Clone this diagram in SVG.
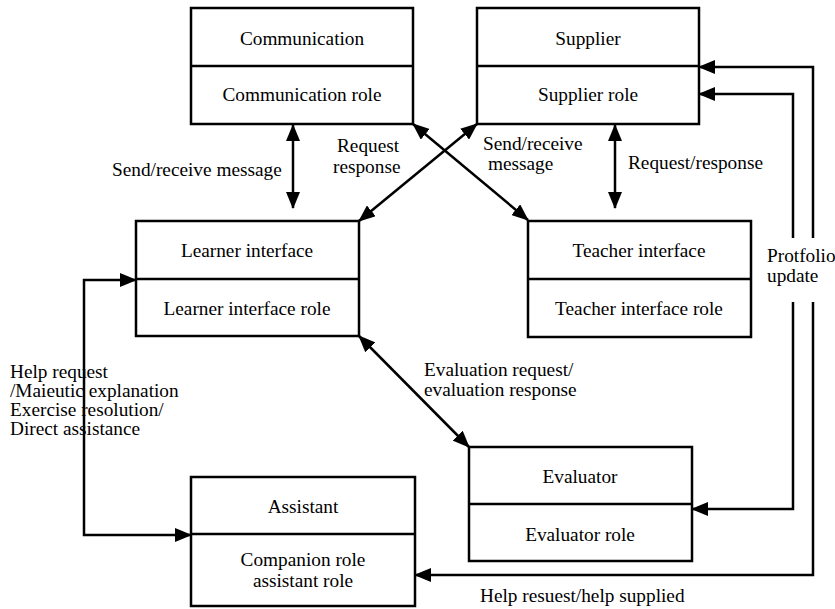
<svg xmlns="http://www.w3.org/2000/svg" width="835" height="609" viewBox="0 0 835 609">
  <style>
    .box { fill: #fff; stroke: #000; stroke-width: 2.5; }
    .div { stroke: #000; stroke-width: 2.5; fill: none; }
    text { font-family: 'Liberation Serif', 'Times New Roman', 'DejaVu Serif', serif; font-size: 19.3px; fill: #000; }
    .c { text-anchor: middle; }
    .link { fill: none; stroke: #000; stroke-width: 2.5; }
    .dbl { marker-start: url(#ah); marker-end: url(#ah); }
  </style>
  <defs>
    <marker id="ah" viewBox="0 0 17 14" refX="16" refY="7" markerWidth="17" markerHeight="14" markerUnits="userSpaceOnUse" orient="auto-start-reverse">
      <path d="M0,0 L17,7 L0,14 Z" fill="#000"/>
    </marker>
  </defs>
  <rect width="835" height="609" fill="#fff"/>

  <!-- connectors -->
  <g id="connectors">
    <!-- Communication <-> Learner interface -->
    <line class="link dbl" x1="293" y1="125" x2="293" y2="208"/>
    <!-- Supplier <-> Teacher interface -->
    <line class="link dbl" x1="615" y1="125" x2="615" y2="208"/>
    <!-- Communication <-> Teacher interface -->
    <line class="link dbl" x1="413" y1="124" x2="528" y2="220"/>
    <!-- Supplier <-> Learner interface -->
    <line class="link dbl" x1="477" y1="124" x2="359" y2="221"/>
    <!-- Learner interface <-> Evaluator -->
    <line class="link dbl" x1="359" y1="336" x2="469" y2="447"/>
    <!-- Learner interface <-> Assistant -->
    <path class="link dbl" d="M136,280 H84 V535 H191"/>
    <!-- Supplier <-> Evaluator (portfolio update) -->
    <path class="link" marker-start="url(#ah)" marker-end="url(#ah)" d="M699,94 H793 V238 M793,302 V509 H692"/>
    <!-- Supplier <-> Assistant (help request) -->
    <path class="link" marker-start="url(#ah)" marker-end="url(#ah)" d="M699,67 H813 V238 M813,302 V575 H415"/>
  </g>

  <!-- connector labels -->
  <g id="labels">
    <text x="112" y="176">Send/receive message</text>
    <text x="337" y="152">Request</text>
    <text x="333" y="173">response</text>
    <text x="483" y="150">Send/receive</text>
    <text x="488" y="170">message</text>
    <text x="628" y="169">Request/response</text>
    <text x="767" y="262">Protfolio</text>
    <text x="767" y="282">update</text>
    <text x="424" y="376">Evaluation request/</text>
    <text x="424" y="396">evaluation response</text>
    <text x="10" y="378">Help request</text>
    <text x="10" y="397">/Maieutic explanation</text>
    <text x="10" y="416">Exercise resolution/</text>
    <text x="10" y="435">Direct assistance</text>
    <text x="480" y="602">Help resuest/help supplied</text>
  </g>

  <g id="communication">
    <rect class="box" x="191" y="8" width="222" height="116"/>
    <line class="div" x1="191" y1="66" x2="413" y2="66"/>
    <text class="c" x="302" y="45">Communication</text>
    <text class="c" x="302" y="101">Communication role</text>
  </g>

  <g id="supplier">
    <rect class="box" x="477" y="8" width="222" height="116"/>
    <line class="div" x1="477" y1="66" x2="699" y2="66"/>
    <text class="c" x="588" y="45">Supplier</text>
    <text class="c" x="588" y="101">Supplier role</text>
  </g>

  <g id="learner-interface">
    <rect class="box" x="136" y="221" width="223" height="115"/>
    <line class="div" x1="136" y1="279" x2="359" y2="279"/>
    <text class="c" x="247" y="257">Learner interface</text>
    <text class="c" x="247" y="315">Learner interface role</text>
  </g>

  <g id="teacher-interface">
    <rect class="box" x="528" y="221" width="223" height="116"/>
    <line class="div" x1="528" y1="279" x2="751" y2="279"/>
    <text class="c" x="639" y="257">Teacher interface</text>
    <text class="c" x="639" y="315">Teacher interface role</text>
  </g>

  <g id="evaluator">
    <rect class="box" x="469" y="447" width="223" height="114"/>
    <line class="div" x1="469" y1="504" x2="692" y2="504"/>
    <text class="c" x="580" y="483">Evaluator</text>
    <text class="c" x="580" y="541">Evaluator role</text>
  </g>

  <g id="assistant">
    <rect class="box" x="191" y="477" width="224" height="129"/>
    <line class="div" x1="191" y1="534" x2="415" y2="534"/>
    <text class="c" x="303" y="513">Assistant</text>
    <text class="c" x="303" y="566">Companion role</text>
    <text class="c" x="303" y="587">assistant role</text>
  </g>
</svg>
